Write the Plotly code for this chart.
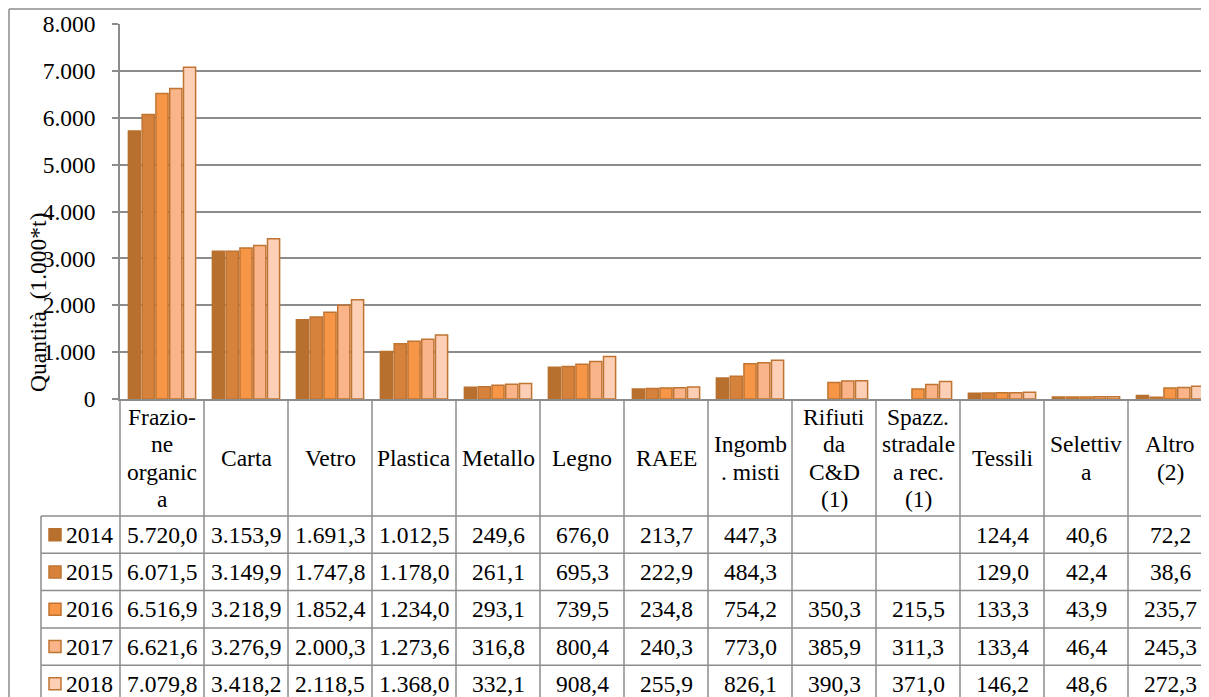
import plotly.graph_objects as go

categories = ["Frazio-\nne\norganic\na", "Carta", "Vetro", "Plastica", "Metallo", "Legno", "RAEE",
              "Ingomb\n. misti", "Rifiuti\nda\nC&D\n(1)", "Spazz.\nstradale\na rec.\n(1)", "Tessili",
              "Selettiv\na", "Altro\n(2)"]
years = ["2014", "2015", "2016", "2017", "2018"]
v2014 = [5720.0, 3153.9, 1691.3, 1012.5, 249.6, 676.0, 213.7, 447.3, None, None, 124.4, 40.6, 72.2]
v2015 = [6071.5, 3149.9, 1747.8, 1178.0, 261.1, 695.3, 222.9, 484.3, None, None, 129.0, 42.4, 38.6]
v2016 = [6516.9, 3218.9, 1852.4, 1234.0, 293.1, 739.5, 234.8, 754.2, 350.3, 215.5, 133.3, 43.9, 235.7]
v2017 = [6621.6, 3276.9, 2000.3, 1273.6, 316.8, 800.4, 240.3, 773.0, 385.9, 311.3, 133.4, 46.4, 245.3]
v2018 = [7079.8, 3418.2, 2118.5, 1368.0, 332.1, 908.4, 255.9, 826.1, 390.3, 371.0, 146.2, 48.6, 272.3]
series = [v2014, v2015, v2016, v2017, v2018]

colors = ["#B8702F", "#D6823C", "#F79646", "#F9B48A", "#FCCFB6"]
borders = ["#B8702F", "#C07432", "#C07432", "#C07432", "#C07432"]

OFF = 8  # page body margin
SW, SH = 1209, 697  # screenshot size
W, H = SW - OFF, SH - OFF
ML = 120 - OFF
MT = 24 - OFF
MB = H - (399 - OFF)
MR = 0
PW, PH = W - ML - MR, H - MT - MB
XMIN, XMAX = -0.5, 12.5 - 3 / 84
FONT = "Liberation Serif"
FS = 23.5
GRID = "#8c8c8c"


def px_x(px):
    return (px - OFF - ML) / PW


def px_y(py):
    return (H - MB - (py - OFF)) / PH


def cat_x(v):
    return (v - XMIN) / (XMAX - XMIN)


def fmt(v):
    if v is None:
        return ""
    s = f"{v:,.1f}"
    return s.replace(",", "X").replace(".", ",").replace("X", ".")


fig = go.Figure()
idx = list(range(len(categories)))
for y, vals, c, b in zip(years, series, colors, borders):
    fig.add_trace(go.Bar(x=idx, y=vals, name=y, marker=dict(color=c, line=dict(color=b, width=1.5))))

shapes = []
ann = []
line = dict(color=GRID, width=1.5)

# outer chart border (left, top)
shapes.append(dict(type="line", xref="paper", yref="paper", x0=px_x(9), x1=px_x(9), y0=px_y(9), y1=px_y(SH + 5), line=line))
shapes.append(dict(type="line", xref="paper", yref="paper", x0=px_x(9), x1=px_x(SW + 5), y0=px_y(9), y1=px_y(9), line=line))

# table geometry
header_bottom = 516
row_h = 37.3
table_bottom = SH + 5
for i in range(len(categories) + 1):
    xb = cat_x(i - 0.5)
    shapes.append(dict(type="line", xref="paper", yref="paper", x0=xb, x1=xb, y0=0, y1=px_y(table_bottom), line=line))
shapes.append(dict(type="line", xref="paper", yref="paper", x0=px_x(41), x1=px_x(41),
                   y0=px_y(header_bottom), y1=px_y(table_bottom), line=line))
for r in range(len(years)):
    yy = px_y(header_bottom + r * row_h)
    shapes.append(dict(type="line", xref="paper", yref="paper", x0=px_x(41), x1=px_x(SW + 5), y0=yy, y1=yy, line=line))

# header labels
for i, lab in enumerate(categories):
    parts = lab.split("\n")
    n = len(parts)
    for k, p in enumerate(parts):
        ann.append(dict(x=i, xref="x", y=px_y(458 + (k - (n - 1) / 2) * 27.3), yref="paper", text=p,
                        showarrow=False, xanchor="center", yanchor="middle",
                        font=dict(family=FONT, size=FS, color="black")))

# table rows
for r, (y, vals, c, b) in enumerate(zip(years, series, colors, borders)):
    yc = header_bottom + (r + 0.5) * row_h
    shapes.append(dict(type="rect", xref="paper", yref="paper", x0=px_x(49), x1=px_x(61),
                       y0=px_y(yc - 6), y1=px_y(yc + 6), fillcolor=c, line=dict(color=b, width=1.5)))
    ann.append(dict(x=px_x(64), xref="paper", y=px_y(yc), yref="paper", text=y, showarrow=False,
                    xanchor="left", yanchor="middle", font=dict(family=FONT, size=FS, color="black")))
    for i, v in enumerate(vals):
        if v is None:
            continue
        ann.append(dict(x=i, xref="x", y=px_y(yc), yref="paper", text=fmt(v), showarrow=False,
                        xanchor="center", yanchor="middle", font=dict(family=FONT, size=FS, color="black")))

# y-axis title
ann.append(dict(x=px_x(38), xref="paper", y=px_y(302), yref="paper", text="Quantità  (1.000*t)",
                textangle=-90, showarrow=False, xanchor="center", yanchor="middle",
                font=dict(family=FONT, size=FS, color="black")))

fig.update_layout(
    width=W, height=H,
    margin=dict(l=ML, r=MR, t=MT, b=MB, pad=0),
    paper_bgcolor="white", plot_bgcolor="white",
    barmode="group", bargap=0.18, bargroupgap=0.12,
    showlegend=False,
    separators=",.",
    font=dict(family=FONT, size=FS, color="black"),
    xaxis=dict(range=[XMIN, XMAX], showticklabels=False, ticks="", showgrid=False, zeroline=False,
               showline=True, linecolor=GRID, linewidth=1.5),
    yaxis=dict(range=[0, 8000], dtick=1000, tickformat=",d", showgrid=True, gridcolor=GRID, gridwidth=1.5,
               zeroline=False, showline=True, linecolor=GRID, linewidth=1.5, ticks="outside", ticklen=6,
               tickcolor=GRID, tickwidth=1.5, ticklabelstandoff=12,
               tickfont=dict(family=FONT, size=FS, color="black")),
    shapes=shapes,
    annotations=ann,
)

fig.write_html("out.html")
